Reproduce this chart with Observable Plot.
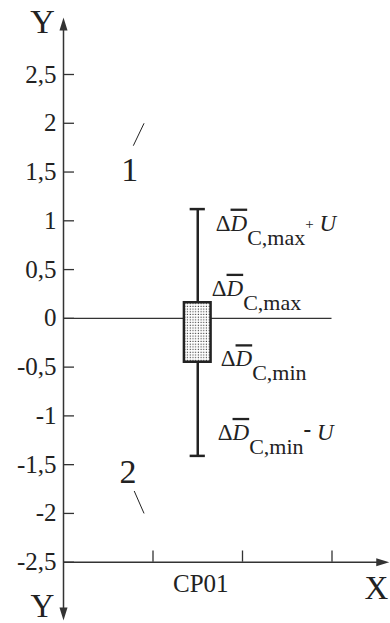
<!DOCTYPE html>
<html><head><meta charset="utf-8">
<script src="https://cdn.jsdelivr.net/npm/d3@7"></script>
<script src="https://cdn.jsdelivr.net/npm/@observablehq/plot@0.6"></script>
<style>body{margin:0;background:#fff} svg{display:block}</style>
</head><body><div id="chart"></div>
<script>
// ---- data ----
const categories = ["CP01"];
const categoryPos = [1.5];
const boxTop = [0.16];
const boxBottom = [-0.45];
const whiskerTop = [1.12];
const whiskerBottom = [-1.41];
const yTicks = [2.5, 2, 1.5, 1, 0.5, 0, -0.5, -1, -1.5, -2, -2.5];
const xTicks = [1, 2, 3];
const labelSub = ["C,max", "C,max", "C,min", "C,min"];
const labelOp = ["+", "", "", "-"];
const labelValue = [whiskerTop[0], boxTop[0], boxBottom[0], whiskerBottom[0]];
const regionLabels = ["1", "2"];
const regionX = [0.74, 0.72];
const regionY = [1.41, -1.69];
const leaderX1 = [0.78, 0.79];
const leaderY1 = [1.77, -1.77];
const leaderX2 = [0.90, 0.90];
const leaderY2 = [2.0, -2.0];

// ---- styles / layout ----
const ink = "#222";
const axisInk = "#333";
const labelOffsets = [[18, 21.5], [14, -7], [23, 4], [20, -16]];
const xMax = 3.64, yTopTip = 3.084, yBotTip = -3.097;
const arrowHead = {draw(ctx) { ctx.moveTo(0, 0); ctx.lineTo(4, 13); ctx.lineTo(-4, 13); ctx.closePath(); }};
const fmt = d => (d < 0 ? "-" : "") + String(Math.abs(d)).replace(".", ",");

const svg = Plot.plot({
  width: 390,
  height: 623,
  x: {type: "linear", domain: [0, 3], range: [63, 331.5], axis: null},
  y: {type: "linear", domain: [-2.5, 2.5], range: [561.7, 74], axis: null},
  style: {fontFamily: "'Liberation Serif', serif", fontSize: "25px", color: ink, background: "#fff", overflow: "visible"},
  marks: [
    Plot.ruleY([0], {x1: 0, x2: 3, stroke: axisInk, strokeWidth: 1.3}),
    Plot.ruleX([0], {y1: yBotTip + 0.1, y2: yTopTip - 0.1, stroke: axisInk, strokeWidth: 1.5}),
    Plot.ruleY([-2.5], {x1: 0, x2: xMax - 0.1, stroke: axisInk, strokeWidth: 1.5}),
    Plot.ruleY(yTicks, {x1: 0, x2: 0.123, stroke: axisInk, strokeWidth: 1.3}),
    Plot.ruleX(xTicks, {y1: -2.5, y2: -2.5 + 0.115, stroke: axisInk, strokeWidth: 1.3}),
    Plot.dot([[0, yTopTip, 0], [0, yBotTip, 180], [xMax, -2.5, 90]], {
      x: d => d[0], y: d => d[1], rotate: d => d[2], symbol: arrowHead, fill: axisInk, stroke: "none", r: 5
    }),
    Plot.text(yTicks, {x: 0, y: d => d, text: fmt, textAnchor: "end", dx: -7, fontSize: 25, fill: ink}),
    Plot.text(categories, {x: (d, i) => categoryPos[i], y: -2.5, text: d => d, dy: 30, dx: 3, lineAnchor: "bottom", fontSize: 25, fill: ink}),
    Plot.ruleX(categories, {x: (d, i) => categoryPos[i], y1: (d, i) => whiskerBottom[i], y2: (d, i) => whiskerTop[i], stroke: ink, strokeWidth: 2.5}),
    Plot.ruleY(categories, {y: (d, i) => whiskerTop[i], x1: (d, i) => categoryPos[i] - 0.085, x2: (d, i) => categoryPos[i] + 0.085, stroke: ink, strokeWidth: 2.5}),
    Plot.ruleY(categories, {y: (d, i) => whiskerBottom[i], x1: (d, i) => categoryPos[i] - 0.085, x2: (d, i) => categoryPos[i] + 0.085, stroke: ink, strokeWidth: 2.5}),
    Plot.rect(categories, {
      x1: (d, i) => categoryPos[i] - 0.149, x2: (d, i) => categoryPos[i] + 0.149,
      y1: (d, i) => boxBottom[i], y2: (d, i) => boxTop[i],
      fill: "url(#dots)", stroke: ink, strokeWidth: 2.5
    }),
    ...labelValue.map((v, i) => Plot.text([v], {
      x: categoryPos[0], y: d => d, text: () => `Δ|D|${labelSub[i]}|${labelOp[i]}`,
      textAnchor: "start", lineAnchor: "bottom", dx: labelOffsets[i][0], dy: labelOffsets[i][1],
      fontSize: 23, fill: ink
    })),
    Plot.text(regionLabels, {x: (d, i) => regionX[i], y: (d, i) => regionY[i], text: d => d, lineAnchor: "bottom", fontSize: 34, fill: ink}),
    Plot.link(regionLabels, {x1: (d, i) => leaderX1[i], y1: (d, i) => leaderY1[i], x2: (d, i) => leaderX2[i], y2: (d, i) => leaderY2[i], stroke: ink, strokeWidth: 1}),
    Plot.text(["Y"], {x: 0, y: 2.93, text: d => d, dx: -21, lineAnchor: "bottom", fontSize: 34, fill: ink}),
    Plot.text(["Y"], {x: 0, y: -3.06, text: d => d, dx: -21, lineAnchor: "bottom", fontSize: 33, fill: ink}),
    Plot.text(["X"], {x: 3.54, y: -2.88, text: d => d, dx: -4, lineAnchor: "bottom", fontSize: 33, fill: ink})
  ]
});

// dotted fill pattern for the box
const defs = d3.select(svg).insert("defs", ":first-child");
const pat = defs.append("pattern").attr("id", "dots").attr("patternUnits", "userSpaceOnUse")
  .attr("width", 2.7).attr("height", 2.7);
pat.append("rect").attr("width", 2.7).attr("height", 2.7).attr("fill", "#fff");
pat.append("rect").attr("x", 0.7).attr("y", 0.7).attr("width", 1.1).attr("height", 1.1).attr("fill", "#333");

// rich text for the annotation labels
d3.select(svg).selectAll("text").filter(function() { return this.textContent.includes("|"); }).each(function() {
  const parts = this.textContent.split("|");
  const sub = parts[2], op = parts[3];
  const t = d3.select(this);
  t.text(null);
  t.append("tspan").text("Δ");
  t.append("tspan").attr("font-style", "italic").attr("text-decoration", "overline").text("D");
  t.append("tspan").attr("font-size", 22).attr("dy", 14).text(sub);
  if (op === "+") {
    t.append("tspan").attr("font-size", 15).attr("dy", -15.5).text("+");
    t.append("tspan").attr("dy", 1.5).text(" ");
    t.append("tspan").attr("font-style", "italic").text("U");
  } else if (op === "-") {
    t.append("tspan").attr("font-weight", "bold").attr("dy", -17).text("-");
    t.append("tspan").attr("dy", 3).text(" ");
    t.append("tspan").attr("font-style", "italic").text("U");
  }
});

document.getElementById("chart").appendChild(svg);
</script>
</body></html>
